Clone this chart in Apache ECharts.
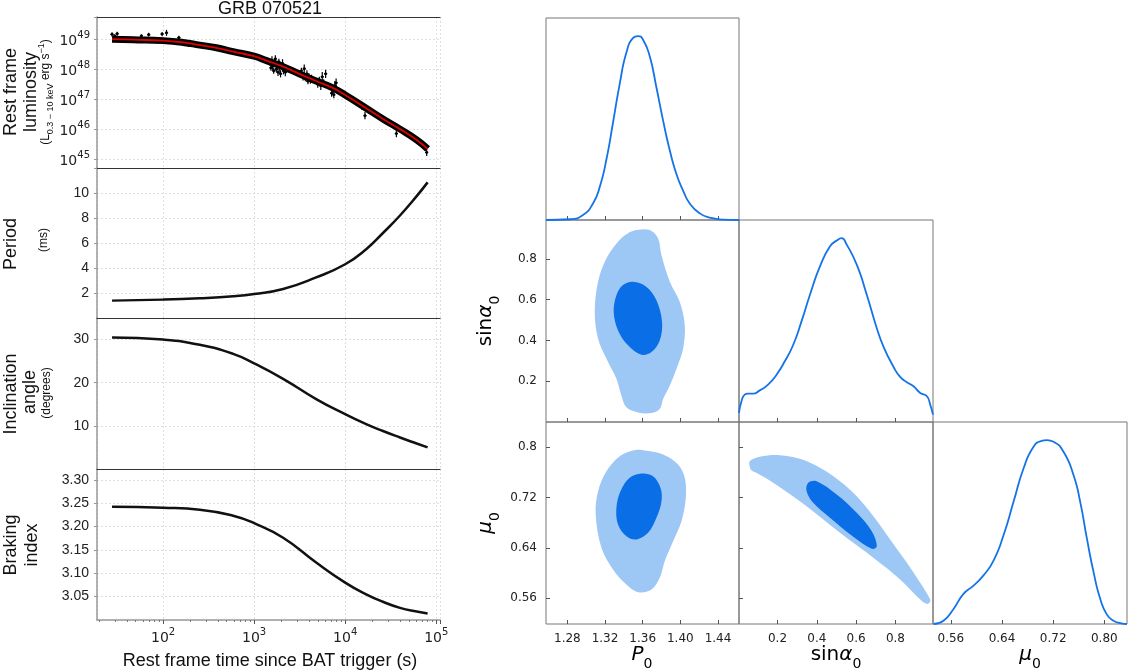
<!DOCTYPE html>
<html><head><meta charset="utf-8">
<script src="https://cdn.jsdelivr.net/npm/echarts@6/dist/echarts.min.js"></script>
<style>html,body{margin:0;padding:0;background:#fff}#c{width:1128px;height:671px}</style>
</head><body><div id="c"></div>
<script>
// ---------- Left panels: GRB 070521 ----------
const lumModelT = [27.5, 46.8, 100, 166, 253, 385, 588, 1000, 1370, 2082, 3170, 4800, 7400, 10000, 17000, 26000, 40000, 61000, 80400];
const lumModelLog = [49.01, 48.99, 48.96, 48.90, 48.81, 48.72, 48.59, 48.44, 48.29, 48.09, 47.84, 47.61, 47.37, 47.14, 46.70, 46.34, 46.00, 45.64, 45.34];

const obsT = [27.5, 29.4, 31.3, 41, 57.8, 69.5, 84.5, 97.5, 109, 149, 191,
  1480, 1530, 1570, 1600, 1640, 1680, 1710, 1750, 1790, 1830, 1870, 1910, 1950, 2000, 2050, 2100, 2150, 2200, 2260,
  3300, 3450, 3550, 3650, 3800, 3900, 4000, 4150, 4270,
  5000, 5200, 5400, 5600, 5800, 6100,
  7100, 7300, 7500, 7700, 7950,
  15200, 16500, 36500, 78500];
const obsLogL = [49.17, 49.11, 49.19, 49.0, 49.12, 49.16, 48.92, 49.18, 49.22, 49.06, 48.81,
  48.25, 48.05, 48.30, 48.10, 47.95, 48.20, 48.35, 48.00, 48.15, 47.90, 48.25, 48.05, 47.85, 48.10, 48.20, 47.95, 48.05, 47.90, 48.0,
  47.95, 47.75, 48.02, 47.70, 47.85, 47.60, 47.75, 47.62, 47.70,
  47.50, 47.65, 47.45, 47.75, 47.55, 47.85,
  47.20, 47.35, 47.15, 47.45, 47.55,
  46.75, 46.45, 45.85, 45.22];
const obsErr = [0.07, 0.06, 0.07, 0.05, 0.05, 0.06, 0.06, 0.07, 0.1, 0.06, 0.06,
  0.12, 0.1, 0.14, 0.12, 0.1, 0.13, 0.12, 0.1, 0.14, 0.12, 0.1, 0.13, 0.12, 0.11, 0.14, 0.12, 0.1, 0.13, 0.12,
  0.1, 0.12, 0.14, 0.1, 0.12, 0.1, 0.12, 0.1, 0.12,
  0.12, 0.1, 0.14, 0.16, 0.12, 0.14,
  0.12, 0.14, 0.12, 0.16, 0.14,
  0.1, 0.12, 0.12, 0.12];

const paramT = [27.5, 100, 253, 588, 1000, 2082, 4800, 10000, 17000, 26000, 40000, 61000, 80400];
const periodMs = [1.39, 1.47, 1.58, 1.74, 1.92, 2.32, 3.25, 4.3, 5.5, 6.8, 8.2, 9.75, 10.85];
const inclDeg = [30.5, 30.0, 28.8, 26.7, 24.5, 20.9, 16.2, 12.7, 10.4, 8.8, 7.3, 5.9, 5.0];
const brakingIdx = [3.242, 3.240, 3.236, 3.223, 3.207, 3.176, 3.123, 3.080, 3.055, 3.039, 3.026, 3.018, 3.014];

const minorTimeTicks = [20, 30, 40, 50, 60, 70, 80, 90, 200, 300, 400, 500, 600, 700, 800, 900,
  2000, 3000, 4000, 5000, 6000, 7000, 8000, 9000, 20000, 30000, 40000, 50000, 60000, 70000, 80000, 90000];

// ---------- Corner plot ----------
const p0Ticks = [1.28, 1.32, 1.36, 1.40, 1.44];
const sinTicks = [0.2, 0.4, 0.6, 0.8];
const muTicksY = [0.56, 0.64, 0.72, 0.8];
const muTicksX = [0.56, 0.64, 0.72, 0.80];

const kdeP0X = [1.2573, 1.2825, 1.2966, 1.3072, 1.3144, 1.3215, 1.3285, 1.3356, 1.3427, 1.3498, 1.3551, 1.3604, 1.3675, 1.3746, 1.3817, 1.3887, 1.3958, 1.4029, 1.41, 1.4207, 1.4313, 1.4454, 1.4624];
const kdeP0Y = [0, 0.004, 0.027, 0.09, 0.18, 0.33, 0.53, 0.74, 0.91, 0.99, 1.0, 0.98, 0.89, 0.72, 0.54, 0.38, 0.25, 0.16, 0.09, 0.036, 0.013, 0.002, 0];

const kdeSinX = [0.004, 0.016, 0.033, 0.050, 0.075, 0.110, 0.152, 0.195, 0.237, 0.280, 0.322, 0.365, 0.416, 0.467, 0.501, 0.526, 0.552, 0.603, 0.654, 0.705, 0.739, 0.790, 0.824, 0.858, 0.892, 0.926, 0.960, 0.977, 0.991];
const kdeSinY = [0.049, 0.11, 0.149, 0.154, 0.154, 0.172, 0.203, 0.257, 0.33, 0.42, 0.547, 0.692, 0.846, 0.955, 0.986, 1.0, 0.964, 0.855, 0.692, 0.51, 0.41, 0.30, 0.245, 0.216, 0.194, 0.158, 0.14, 0.094, 0.04];

const kdeMuX = [0.5328, 0.5484, 0.5641, 0.5797, 0.5954, 0.611, 0.6267, 0.6423, 0.658, 0.6736, 0.6893, 0.7024, 0.7102, 0.7206, 0.7362, 0.7519, 0.7623, 0.7728, 0.7832, 0.7937, 0.8041, 0.8145, 0.825, 0.8354];
const kdeMuY = [0, 0.018, 0.082, 0.164, 0.209, 0.264, 0.345, 0.482, 0.664, 0.845, 0.964, 0.996, 1.0, 0.991, 0.936, 0.809, 0.664, 0.464, 0.282, 0.136, 0.051, 0.018, 0.005, 0];

const p0SinOuter = [[1.3534, 0.941], [1.3675, 0.941], [1.3763, 0.900], [1.3799, 0.818], [1.3888, 0.687], [1.3994, 0.588], [1.4047, 0.474], [1.4029, 0.359], [1.3959, 0.261], [1.3888, 0.179], [1.3817, 0.113], [1.3781, 0.064], [1.3693, 0.044], [1.355, 0.047], [1.3427, 0.072], [1.3374, 0.130], [1.3321, 0.212], [1.3215, 0.310], [1.3126, 0.408], [1.3091, 0.539], [1.3126, 0.687], [1.3215, 0.802], [1.3338, 0.884], [1.3444, 0.925]];
const p0SinInner = [[1.3497, 0.687], [1.3640, 0.662], [1.3746, 0.597], [1.3806, 0.490], [1.3781, 0.400], [1.3693, 0.343], [1.3587, 0.330], [1.3444, 0.376], [1.3338, 0.449], [1.3292, 0.539], [1.3321, 0.621], [1.3391, 0.671]];

const p0MuOuter = [[1.3604, 0.7952], [1.3817, 0.7884], [1.3976, 0.7725], [1.4047, 0.7513], [1.4058, 0.7196], [1.4012, 0.6824], [1.3923, 0.6506], [1.3834, 0.6188], [1.3781, 0.5924], [1.3693, 0.5738], [1.3551, 0.5695], [1.3427, 0.5817], [1.3285, 0.6056], [1.3162, 0.6401], [1.3101, 0.693], [1.3126, 0.730], [1.3215, 0.7618], [1.3356, 0.7857], [1.3497, 0.7948]];
const p0MuInner = [[1.3587, 0.7582], [1.371, 0.7539], [1.3789, 0.7355], [1.38, 0.7141], [1.3746, 0.6878], [1.3657, 0.6639], [1.3534, 0.6533], [1.3427, 0.6585], [1.3338, 0.6771], [1.3321, 0.7036], [1.3364, 0.73], [1.3462, 0.7513]];

const sinMuOuter = [[0.0586, 0.7698], [0.0586, 0.7777], [0.1096, 0.7847], [0.2117, 0.7873], [0.3137, 0.7815], [0.4158, 0.7672], [0.5178, 0.746], [0.6029, 0.7221], [0.6877, 0.6903], [0.7729, 0.6533], [0.8581, 0.6162], [0.9260, 0.5844], [0.9683, 0.5631], [0.9770, 0.5552], [0.9600, 0.551], [0.926, 0.5579], [0.824, 0.5897], [0.6877, 0.6242], [0.5178, 0.6639], [0.3479, 0.7062], [0.1777, 0.7434], [0.0927, 0.7593], [0.0671, 0.7634]];
const sinMuInner = [[0.3561, 0.7434], [0.3989, 0.746], [0.5009, 0.7248], [0.6029, 0.6957], [0.6795, 0.6665], [0.7050, 0.6426], [0.6795, 0.6385], [0.5821, 0.6585], [0.4668, 0.6878], [0.3815, 0.7116], [0.3479, 0.73]];

// ---------- build ----------
const zip = (a, b) => a.map((v, i) => [v, b[i]]);
const BLACK = '#111', LIGHT = '#9DC7F5', DARK = '#0A6EE6', KDE = '#1573E8';
const ARIAL = 'Liberation Sans', DJ = 'DejaVu Sans';
const tMin = 18.8, tMax = 1.1e5;

const logFmt = v => { const l = Math.log10(v); const r = Math.round(l); return Math.abs(l - r) < 1e-6 ? '{b|10}{s|' + r + '}' : ''; };
const logRich = {
  b: { fontFamily: DJ, fontSize: 14, color: '#222', lineHeight: 18, verticalAlign: 'bottom' },
  s: { fontFamily: DJ, fontSize: 10, color: '#222', lineHeight: 18, verticalAlign: 'top' }
};
const gridLine = { show: true, lineStyle: { color: '#d6d6d6', type: [2, 2], width: 0.8 } };

const leftGrids = [
  { left: 97, top: 17, width: 343, height: 151 },
  { left: 97, top: 168, width: 343, height: 150 },
  { left: 97, top: 318, width: 343, height: 151 },
  { left: 97, top: 469, width: 343, height: 151 }
];
const cornerGrids = [
  { left: 546, top: 18, width: 193, height: 202 },
  { left: 546, top: 220, width: 193, height: 202 },
  { left: 739, top: 220, width: 194, height: 202 },
  { left: 546, top: 422, width: 193, height: 202 },
  { left: 739, top: 422, width: 194, height: 202 },
  { left: 933, top: 422, width: 194, height: 202 }
].map(g => Object.assign(g, { show: true, borderColor: '#777', borderWidth: 1, backgroundColor: 'transparent' }));

const xAxes = [];
for (let i = 0; i < 4; i++) {
  xAxes.push({
    type: 'log', gridIndex: i, min: tMin, max: tMax, logBase: 10, position: 'bottom',
    axisLine: { show: true, lineStyle: { color: i === 3 ? '#999' : '#333', width: i === 3 ? 1.5 : 1 } },
    axisTick: { show: i === 3, length: 4, lineStyle: { color: '#555' } },
    axisLabel: { show: i === 3, formatter: logFmt, rich: logRich, margin: 7, showMinLabel: false },
    splitLine: gridLine
  });
}
// top spine of the first panel
xAxes.push({ type: 'log', gridIndex: 0, position: 'top', min: tMin, max: tMax,
  axisLine: { show: true, lineStyle: { color: '#333', width: 1 } }, axisTick: { show: false }, axisLabel: { show: false }, splitLine: { show: false } });
// minor ticks of the time axis
xAxes.push({ type: 'log', gridIndex: 3, position: 'bottom', offset: 0, min: tMin, max: tMax,
  axisLine: { show: false }, axisLabel: { show: false }, splitLine: { show: false },
  axisTick: { show: true, length: 2, lineStyle: { color: '#777' }, customValues: minorTimeTicks } });

const yAxes = [
  { type: 'log', gridIndex: 0, min: Math.pow(10, 44.7), max: Math.pow(10, 49.75),
    axisLine: { show: true, lineStyle: { color: '#999', width: 1.5 } }, axisTick: { show: true, length: 3 },
    axisLabel: { formatter: logFmt, rich: logRich, margin: 7 }, splitLine: gridLine },
  { type: 'value', gridIndex: 1, min: 0, max: 12, interval: 2,
    axisLine: { show: true, lineStyle: { color: '#999', width: 1.5 } }, axisTick: { show: true, length: 3 },
    axisLabel: { fontFamily: ARIAL, fontSize: 14, color: '#222', margin: 8, showMinLabel: false, showMaxLabel: false }, splitLine: gridLine },
  { type: 'value', gridIndex: 2, min: 0, max: 35, interval: 10,
    axisLine: { show: true, lineStyle: { color: '#999', width: 1.5 } }, axisTick: { show: true, length: 3 },
    axisLabel: { fontFamily: ARIAL, fontSize: 14, color: '#222', margin: 8, showMinLabel: false, showMaxLabel: false }, splitLine: gridLine },
  { type: 'value', gridIndex: 3, min: 3.0, max: 3.323, interval: 0.05,
    axisLine: { show: true, lineStyle: { color: '#999', width: 1.5 } }, axisTick: { show: true, length: 3 },
    axisLabel: { fontFamily: ARIAL, fontSize: 14, color: '#222', margin: 8, showMinLabel: false, showMaxLabel: false,
      formatter: v => v.toFixed(2) }, splitLine: gridLine }
];

function cAxis(grid, min, max, ticks, showLabels, fmt) {
  return { type: 'value', gridIndex: grid, min: min, max: max,
    axisLine: { show: false }, splitLine: { show: false },
    axisTick: { show: true, inside: true, length: 4, lineStyle: { color: '#555' }, customValues: ticks },
    axisLabel: { show: showLabels, customValues: ticks, formatter: fmt, fontFamily: DJ, fontSize: 12, color: '#222', margin: 9 } };
}
const hiddenY = g => ({ type: 'value', gridIndex: g, min: 0, max: 1.098, show: false });
const P0R = [1.2573, 1.4623], SINR = [0.004, 0.991], MUY = [0.519, 0.840], MUX = [0.532, 0.8355];
const f2 = v => v.toFixed(2), f1 = v => v.toFixed(1), fs = v => String(v);
// corner x axes: grids 4..9 -> xAxis 6..11
xAxes.push(cAxis(4, P0R[0], P0R[1], p0Ticks, false, f2));
xAxes.push(cAxis(5, P0R[0], P0R[1], p0Ticks, false, f2));
xAxes.push(cAxis(6, SINR[0], SINR[1], sinTicks, false, f1));
xAxes.push(cAxis(7, P0R[0], P0R[1], p0Ticks, true, f2));
xAxes.push(cAxis(8, SINR[0], SINR[1], sinTicks, true, f1));
xAxes.push(cAxis(9, MUX[0], MUX[1], muTicksX, true, f2));
// corner y axes: grids 4..9 -> yAxis 4..9
yAxes.push(hiddenY(4));
yAxes.push(cAxis(5, 0.0, 0.99, sinTicks, true, f1));
yAxes.push(hiddenY(6));
yAxes.push(cAxis(7, MUY[0], MUY[1], muTicksY, true, fs));
yAxes.push(cAxis(8, MUY[0], MUY[1], muTicksY, false, fs));
yAxes.push(hiddenY(9));

function polySeries(xi, yi, pts, color) {
  return { type: 'custom', xAxisIndex: xi, yAxisIndex: yi, data: [[pts[0][0], pts[0][1]]], silent: true, clip: true,
    renderItem: (params, api) => ({ type: 'polygon', shape: { points: pts.map(p => api.coord(p)), smooth: 0.35 },
      style: { fill: color } }) };
}
function kdeSeries(xi, yi, xs, ys) {
  return { type: 'line', xAxisIndex: xi, yAxisIndex: yi, data: zip(xs, ys), showSymbol: false, smooth: 0.55,
    lineStyle: { color: KDE, width: 1.8 }, itemStyle: { color: KDE }, silent: true };
}
const curve = (gi, ys) => ({ type: 'line', xAxisIndex: gi, yAxisIndex: gi, data: zip(paramT, ys), showSymbol: false,
  smooth: 0.5, lineStyle: { color: BLACK, width: 2.5 }, silent: true });

const lumModel = lumModelT.map((t, i) => [t, Math.pow(10, lumModelLog[i])]);
const obsData = obsT.map((t, i) => [t, Math.pow(10, obsLogL[i]), obsErr[i]]);

const series = [
  { type: 'line', xAxisIndex: 0, yAxisIndex: 0, data: lumModel, showSymbol: false, smooth: 0.5,
    lineStyle: { color: '#000', width: 7 }, silent: true, z: 2 },
  { type: 'custom', xAxisIndex: 0, yAxisIndex: 0, data: obsData, silent: true, z: 3,
    renderItem: (params, api) => {
      const t = api.value(0), L = api.value(1), e = api.value(2);
      const c = api.coord([t, L]);
      const hi = api.coord([t, L * Math.pow(10, e)]), lo = api.coord([t, L / Math.pow(10, e)]);
      return { type: 'group', children: [
        { type: 'line', shape: { x1: c[0], y1: hi[1], x2: c[0], y2: lo[1] }, style: { stroke: '#000', lineWidth: 1.2 } },
        { type: 'line', shape: { x1: c[0] - 1.6, y1: c[1], x2: c[0] + 1.6, y2: c[1] }, style: { stroke: '#000', lineWidth: 1.2 } },
        { type: 'circle', shape: { cx: c[0], cy: c[1], r: 1.4 }, style: { fill: '#000' } }
      ] };
    } },
  { type: 'line', xAxisIndex: 0, yAxisIndex: 0, data: lumModel, showSymbol: false, smooth: 0.5,
    lineStyle: { color: '#e00000', width: 1.8 }, silent: true, z: 4 },
  curve(1, periodMs), curve(2, inclDeg), curve(3, brakingIdx),
  kdeSeries(6, 4, kdeP0X, kdeP0Y),
  polySeries(7, 5, p0SinOuter, LIGHT), polySeries(7, 5, p0SinInner, DARK),
  kdeSeries(8, 6, kdeSinX, kdeSinY),
  polySeries(9, 7, p0MuOuter, LIGHT), polySeries(9, 7, p0MuInner, DARK),
  polySeries(10, 8, sinMuOuter, LIGHT), polySeries(10, 8, sinMuInner, DARK),
  kdeSeries(11, 9, kdeMuX, kdeMuY)
];

const vtext = (x, y, text, size, extra) => ({ type: 'text', x: x, y: y, rotation: Math.PI / 2, silent: true,
  style: Object.assign({ text: text, fontFamily: ARIAL, fontSize: size, fill: '#111', align: 'center', verticalAlign: 'middle' }, extra || {}) });
const mathRich = {
  u: { fontFamily: DJ, fontSize: 20, color: '#111', lineHeight: 26, verticalAlign: 'top' },
  i: { fontFamily: DJ, fontSize: 20, fontStyle: 'italic', color: '#111', lineHeight: 26, verticalAlign: 'top' },
  s: { fontFamily: DJ, fontSize: 14, color: '#111', lineHeight: 26, verticalAlign: 'bottom' }
};
const lumRich = {
  n: { fontFamily: ARIAL, fontSize: 12, color: '#111', lineHeight: 18, verticalAlign: 'middle' },
  sb: { fontFamily: ARIAL, fontSize: 9, color: '#111', lineHeight: 18, verticalAlign: 'bottom' },
  sp: { fontFamily: ARIAL, fontSize: 9, color: '#111', lineHeight: 18, verticalAlign: 'top' }
};

const graphic = [
  { type: 'text', x: 270, y: 9, silent: true, style: { text: 'GRB 070521', fontFamily: ARIAL, fontSize: 18, fill: '#111', align: 'center', verticalAlign: 'middle' } },
  { type: 'text', x: 270, y: 661, silent: true, style: { text: 'Rest frame time since BAT trigger (s)', fontFamily: ARIAL, fontSize: 18, fill: '#111', align: 'center', verticalAlign: 'middle' } },
  vtext(11, 92, 'Rest frame', 18), vtext(31, 92, 'luminosity', 18),
  vtext(46, 92, '{n|(L}{sb|0.3 − 10 keV}{n| erg s}{sp|−1}{n|)}', 12, { rich: lumRich }),
  vtext(11, 244, 'Period', 18), vtext(44, 240, '(ms)', 12),
  vtext(11, 394, 'Inclination', 18), vtext(30, 392, 'angle', 18), vtext(47, 393, '(degrees)', 12),
  vtext(11, 545, 'Braking', 18), vtext(32, 545, 'index', 18),
  { type: 'text', x: 642, y: 658, silent: true, style: { text: '{i|P}{s|0}', rich: mathRich, align: 'center', verticalAlign: 'middle' } },
  { type: 'text', x: 836, y: 658, silent: true, style: { text: '{u|sin}{i|α}{s|0}', rich: mathRich, align: 'center', verticalAlign: 'middle' } },
  { type: 'text', x: 1030, y: 658, silent: true, style: { text: '{i|μ}{s|0}', rich: mathRich, align: 'center', verticalAlign: 'middle' } },
  { type: 'text', x: 489, y: 321, rotation: Math.PI / 2, silent: true, style: { text: '{u|sin}{i|α}{s|0}', rich: mathRich, align: 'center', verticalAlign: 'middle' } },
  { type: 'text', x: 489, y: 523, rotation: Math.PI / 2, silent: true, style: { text: '{i|μ}{s|0}', rich: mathRich, align: 'center', verticalAlign: 'middle' } }
];

const chart = echarts.init(document.getElementById('c'), null, { renderer: 'canvas' });
chart.setOption({
  animation: false,
  backgroundColor: '#fff',
  grid: leftGrids.concat(cornerGrids),
  xAxis: xAxes,
  yAxis: yAxes,
  series: series,
  graphic: graphic
});
</script></body></html>
